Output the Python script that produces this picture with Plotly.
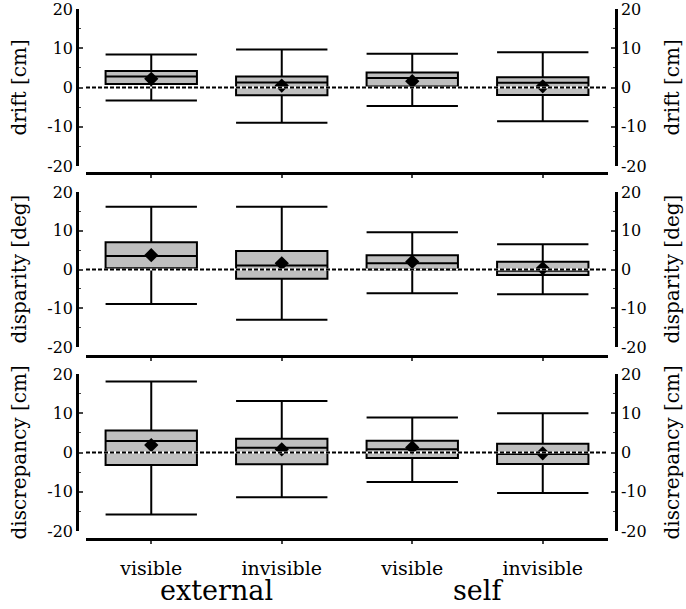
import plotly.graph_objects as go

categories = ["visible", "invisible", "visible", "invisible"]
groups = ["external", "self"]
panel_titles = ["drift [cm]", "disparity [deg]", "discrepancy [cm]"]
y_tickvals = [-20, -10, 0, 10, 20]
y_ticktext = ["-20", "-10", "0", "10", "20"]

# per panel: lower whisker, q1, median, q3, upper whisker, mean
drift_low = [-3.3, -9.0, -4.7, -8.6]
drift_q1 = [0.9, -2.0, 0.25, -1.9]
drift_med = [2.8, 1.3, 2.4, 1.2]
drift_q3 = [4.2, 2.8, 3.8, 2.6]
drift_high = [8.4, 9.7, 8.6, 9.0]
drift_mean = [2.2, 0.5, 1.6, 0.3]

disp_low = [-8.9, -13.0, -6.1, -6.4]
disp_q1 = [0.3, -2.4, 0.0, -1.4]
disp_med = [3.5, 1.0, 1.6, -0.3]
disp_q3 = [7.0, 4.8, 3.7, 2.0]
disp_high = [16.2, 16.2, 9.6, 6.5]
disp_mean = [3.7, 1.6, 2.0, 0.3]

disc_low = [-15.8, -11.4, -7.5, -10.3]
disc_q1 = [-3.2, -3.0, -1.4, -2.9]
disc_med = [2.9, 1.2, 0.8, -0.4]
disc_q3 = [5.6, 3.5, 3.0, 2.2]
disc_high = [18.1, 13.1, 8.9, 10.0]
disc_mean = [1.9, 0.8, 1.3, -0.2]

panels = [
    (drift_low, drift_q1, drift_med, drift_q3, drift_high, drift_mean),
    (disp_low, disp_q1, disp_med, disp_q3, disp_high, disp_mean),
    (disc_low, disc_q1, disc_med, disc_q3, disc_high, disc_mean),
]

W, H = 686, 609


def fx(px):
    return px / W


def fy(py):
    return 1 - py / H


xpos = list(range(len(categories)))

ydomains = [[fy(166), fy(9)], [fy(347), fy(192)], [fy(531), fy(374)]]
xlinepos = [fy(173), fy(356), fy(539)]
xdomain = [fx(86), fx(608)]
left_pos = fx(77)
right_pos = fx(616)

FONT = "DejaVu Serif"

fig = go.Figure()
layout = dict(
    width=W, height=H,
    margin=dict(l=0, r=0, t=0, b=0, autoexpand=False),
    paper_bgcolor="white", plot_bgcolor="white",
    showlegend=False,
    font=dict(family=FONT, color="black", size=14),
)

shapes = []
annotations = []
for i, (lo, q1, med, q3, hi, mean) in enumerate(panels):
    n = i + 1
    xa = "x" if n == 1 else f"x{n}"
    ya = "y" if n == 1 else f"y{n}"
    yr = f"y{n + 3}"
    fig.add_trace(go.Box(
        x=xpos, q1=q1, median=med, q3=q3, lowerfence=lo, upperfence=hi,
        width=0.7, whiskerwidth=1,
        fillcolor="#bfbfbf", line=dict(color="black", width=2),
        xaxis=xa, yaxis=ya, hoverinfo="skip",
    ))
    fig.add_trace(go.Scatter(
        x=xpos, y=mean, mode="markers",
        marker=dict(symbol="diamond", size=11, color="black"),
        xaxis=xa, yaxis=yr,
    ))
    xkey = "xaxis" if n == 1 else f"xaxis{n}"
    ykey = "yaxis" if n == 1 else f"yaxis{n}"
    layout[xkey] = dict(
        domain=xdomain, anchor="free", position=xlinepos[i],
        range=[-0.5, 3.5], tickmode="array", tickvals=xpos, ticktext=categories,
        showticklabels=(n == 3), ticks="outside", ticklen=3, tickwidth=2,
        ticklabelstandoff=8, ticklabeloverflow="allow",
        showline=True, linecolor="black", linewidth=2.5, showgrid=False, zeroline=False,
        tickfont=dict(family=FONT, size=19), fixedrange=True, automargin=False,
    )
    common_y = dict(
        range=[-20, 20], tickmode="array", tickvals=y_tickvals, ticktext=y_ticktext,
        ticks="inside", ticklen=4, tickwidth=2, ticklabeloverflow="allow",
        minor=dict(ticks="inside", ticklen=2, tickwidth=1, dtick=5, tick0=0),
        showline=True, linecolor="black", linewidth=2.5, showgrid=False, zeroline=False,
        tickfont=dict(family=FONT, size=16), automargin=False, fixedrange=True,
    )
    layout[ykey] = dict(domain=ydomains[i], anchor="free", position=left_pos, side="left", **common_y)
    layout[f"yaxis{n + 3}"] = dict(overlaying=ya, anchor="free", position=right_pos, side="right", **common_y)

    shapes.append(dict(type="line", xref=f"{xa} domain", yref=ya, x0=0, x1=1, y0=0, y1=0,
                       line=dict(color="white", width=2), layer="above"))
    shapes.append(dict(type="line", xref=f"{xa} domain", yref=ya, x0=0, x1=1, y0=0, y1=0,
                       line=dict(color="black", width=2, dash="4px,2px"), layer="above"))
    yc = (ydomains[i][0] + ydomains[i][1]) / 2
    annotations.append(dict(text=panel_titles[i], xref="paper", yref="paper", x=fx(18), y=yc,
                            textangle=-90, showarrow=False, font=dict(family=FONT, size=20),
                            xanchor="center", yanchor="middle"))
    annotations.append(dict(text=panel_titles[i], xref="paper", yref="paper", x=fx(671), y=yc,
                            textangle=-90, showarrow=False, font=dict(family=FONT, size=20),
                            xanchor="center", yanchor="middle"))

for g, gx in zip(groups, [0.5, 2.5]):
    annotations.append(dict(text=g, xref="x3", yref="paper", x=gx, y=fy(590),
                            showarrow=False, font=dict(family=FONT, size=27),
                            xanchor="center", yanchor="middle"))

layout["shapes"] = shapes
layout["annotations"] = annotations
fig.update_layout(**layout)
fig.write_html("out.html", config={"displayModeBar": False},
               post_script="document.body.style.margin = '0';")
